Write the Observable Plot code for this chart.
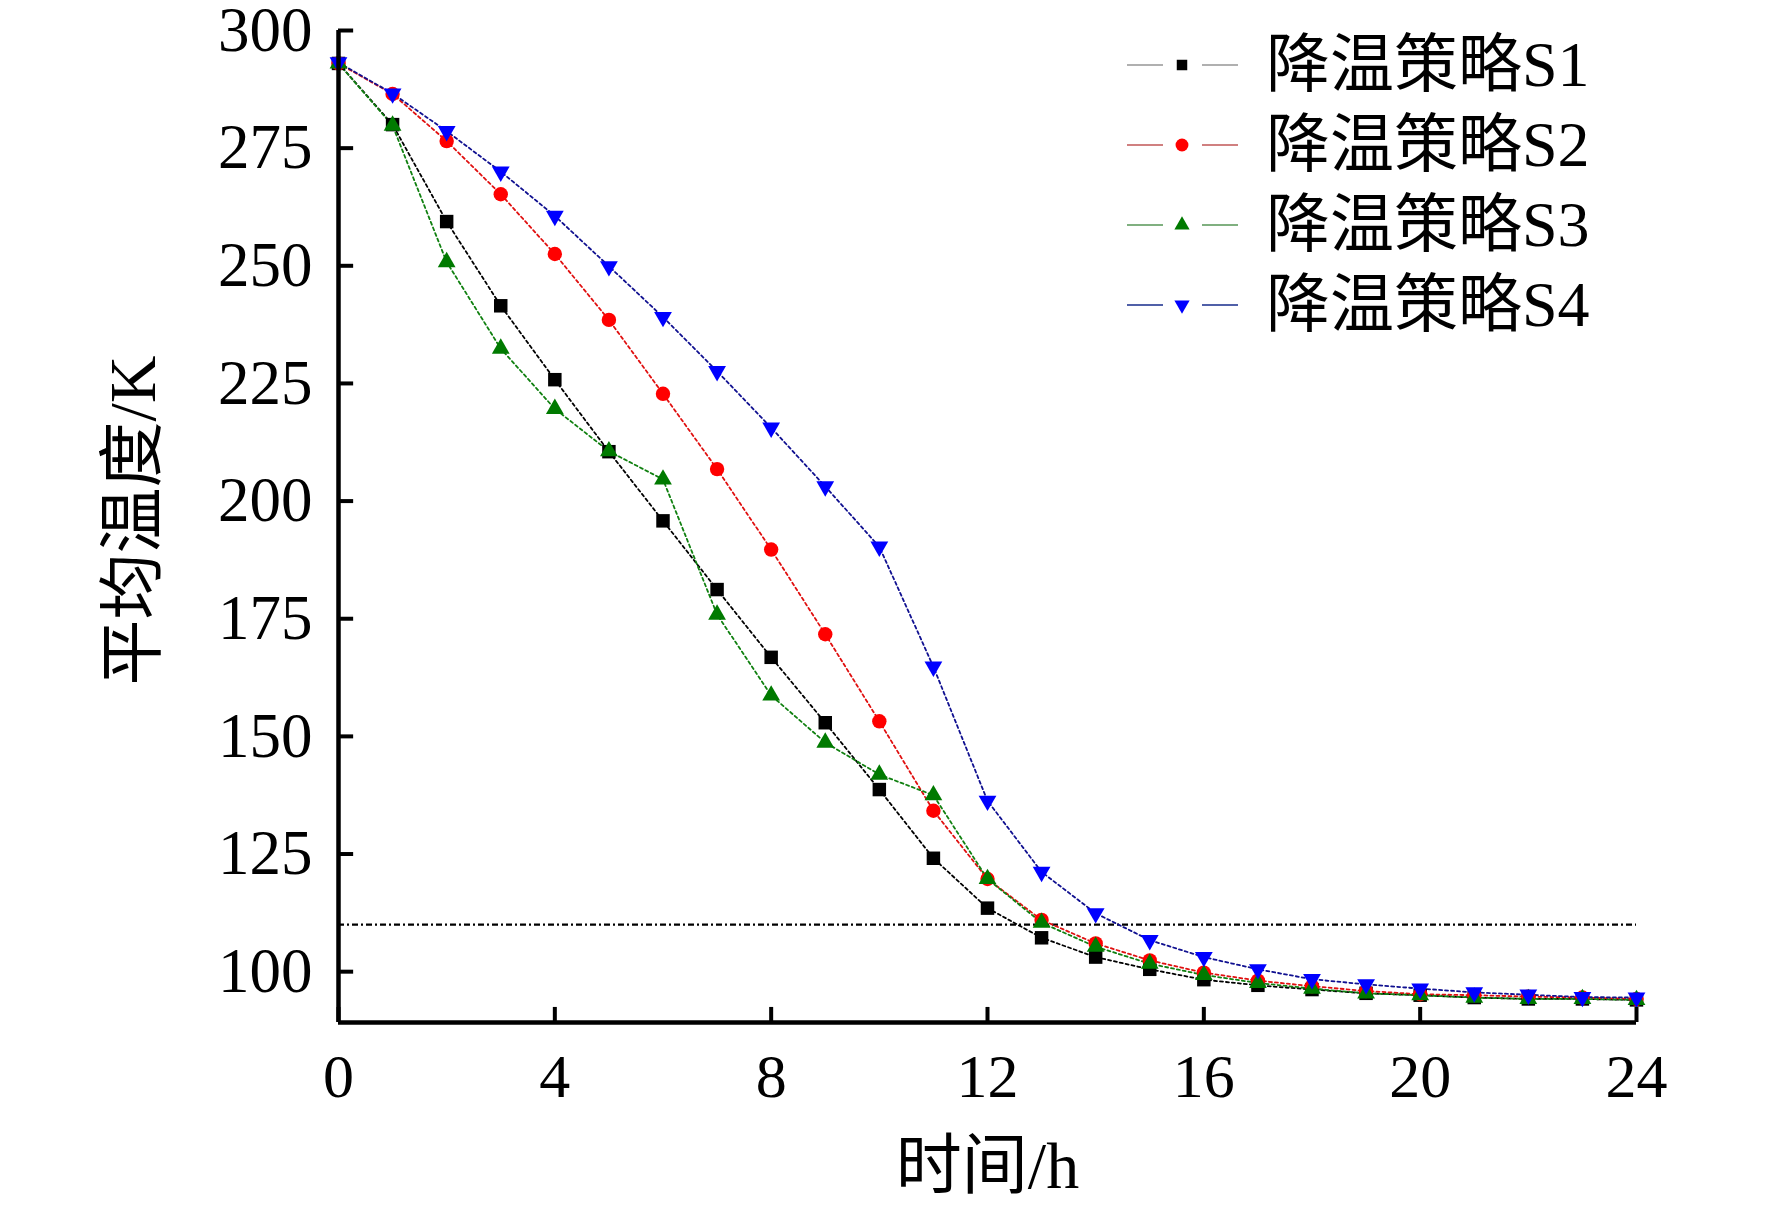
<!DOCTYPE html>
<html>
<head>
<meta charset="utf-8">
<script src="https://cdn.jsdelivr.net/npm/d3@7"></script>
<script src="https://cdn.jsdelivr.net/npm/@observablehq/plot@0.6"></script>
<style>
  html, body { margin: 0; padding: 0; background: #fff; }
  #wrap { position: relative; width: 1772px; height: 1209px; font-family: "Liberation Serif", "Noto Sans CJK SC", serif; }
  #legend { position: absolute; left: 1127px; top: 25px; }
  .row { display: flex; align-items: center; height: 80px; }
  .row span { font-size: 64px; line-height: 80px; color: #000; margin-left: -6px; }
</style>
</head>
<body>
<div id="wrap"><div id="legend"></div></div>
<script>
// ---- data ----
const hours = [0,1,2,3,4,5,6,7,8,9,10,11,12,13,14,15,16,17,18,19,20,21,22,23,24];
const seriesNames = ["降温策略S1", "降温策略S2", "降温策略S3", "降温策略S4"];
const S1 = [293, 280, 259.4, 241.5, 225.8, 210.5, 195.8, 181.2, 166.8, 152.9, 138.7, 124.1, 113.5, 107.2, 103.1, 100.5, 98.3, 97.1, 96.2, 95.4, 95.0, 94.5, 94.2, 94.2, 94.0];
const S2 = [293, 286.5, 276.5, 265.2, 252.5, 238.5, 222.8, 206.8, 189.7, 171.7, 153.2, 134.2, 119.7, 111.0, 106.0, 102.4, 99.8, 98.1, 96.9, 95.9, 95.2, 95.0, 94.7, 94.5, 94.2];
const S3 = [293, 279.8, 250.8, 232.4, 219.6, 210.6, 204.6, 175.9, 158.7, 148.7, 141.9, 137.5, 119.7, 110.4, 105.3, 101.7, 99.3, 97.6, 96.4, 95.4, 95.0, 94.5, 94.2, 94.2, 94.0];
const S4 = [293.2, 286.6, 278.6, 270.0, 260.6, 249.9, 239.1, 227.6, 215.6, 203.1, 190.3, 164.8, 136.3, 121.2, 112.4, 106.7, 103.1, 100.5, 98.4, 97.3, 96.4, 95.6, 95.1, 94.6, 94.5];
const xTicks = [0, 4, 8, 12, 16, 20, 24];
const yTicks = [100, 125, 150, 175, 200, 225, 250, 275, 300];
const refLevel = 110;
const yDomain = [89.2, 300];
const xDomain = [0, 24];

const lineColors = ["#000000", "#e01010", "#108010", "#101090"];
const dotColors = ["#000000", "#ff0000", "#007a00", "#0000ff"];
const symbols = ["square", "circle", "triangle", "triangle"];
const rotations = [0, 0, 0, 180];
const radii = [7.6, 7.2, 6.6, 6.6];
const legendLine = ["#b0b0b0", "#d08080", "#80b080", "#5060a8"];

const allValues = [S1, S2, S3, S4];
const rows = allValues.flatMap((vals, si) => hours.map((h, i) => ({h, v: vals[i], s: seriesNames[si], si})));

const font = '"Liberation Serif", "Noto Sans CJK SC", serif';

const marks = [
  Plot.ruleY([refLevel], {x1: xDomain[0], x2: xDomain[1], stroke: "#000", strokeWidth: 2.4, strokeDasharray: "6,3,2,3"})
];
seriesNames.forEach((name, si) => {
  const d = rows.filter(r => r.si === si);
  marks.push(Plot.line(d, {x: "h", y: "v", stroke: lineColors[si], strokeWidth: 1.8, strokeDasharray: "3,3"}));
});
seriesNames.forEach((name, si) => {
  const d = rows.filter(r => r.si === si);
  marks.push(Plot.dot(d, {x: "h", y: "v", symbol: symbols[si], r: radii[si], fill: dotColors[si], stroke: "none", rotate: rotations[si]}));
});
marks.push(
  Plot.ruleX([xDomain[0]], {y1: yDomain[0], y2: yDomain[1], stroke: "#000", strokeWidth: 4.5}),
  Plot.ruleY([yDomain[0]], {x1: xDomain[0], x2: xDomain[1], stroke: "#000", strokeWidth: 4.5}),
  Plot.ruleY(yTicks, {x1: 0, x2: 0.28, stroke: "#000", strokeWidth: 4}),
  Plot.ruleX(xTicks, {y1: yDomain[0], y2: yDomain[0] + 3.2, stroke: "#000", strokeWidth: 4}),
  Plot.axisY(yTicks, {tickSize: 0, tickPadding: 26, fontSize: 63, label: null, fontFamily: font}),
  Plot.axisX(xTicks, {tickSize: 0, tickPadding: 30, fontSize: 62, label: null, fontFamily: font}),
  Plot.text(["平均温度/K"], {frameAnchor: "left", textAnchor: "middle", lineAnchor: "middle", dx: -205, dy: -6, rotate: -90, fontSize: 66, fontFamily: font, fill: "#000"}),
  Plot.text(["时间/h"], {frameAnchor: "bottom", textAnchor: "middle", lineAnchor: "middle", dy: 144, fontSize: 66, fontFamily: font, fill: "#000"})
);

const chart = Plot.plot({
  width: 1772,
  height: 1209,
  marginLeft: 338,
  marginRight: 136,
  marginTop: 30,
  marginBottom: 187,
  x: {domain: xDomain},
  y: {domain: yDomain},
  style: {fontFamily: font, background: "#fff", color: "#000", overflow: "visible"},
  marks
});
document.getElementById("wrap").prepend(chart);

// legend
const legend = document.getElementById("legend");
seriesNames.forEach((name, si) => {
  const row = document.createElement("div");
  row.className = "row";
  const ns = "http://www.w3.org/2000/svg";
  const svg = document.createElementNS(ns, "svg");
  svg.setAttribute("width", 145);
  svg.setAttribute("height", 80);
  const mk = (tag, attrs) => { const e = document.createElementNS(ns, tag); for (const k in attrs) e.setAttribute(k, attrs[k]); svg.appendChild(e); return e; };
  mk("line", {x1: 0, x2: 36, y1: 40, y2: 40, stroke: legendLine[si], "stroke-width": 2.2});
  mk("line", {x1: 75, x2: 111, y1: 40, y2: 40, stroke: legendLine[si], "stroke-width": 2.2});
  const sym = {square: d3.symbolSquare, circle: d3.symbolCircle, triangle: d3.symbolTriangle}[symbols[si]];
  const size = si === 0 ? 110 : si === 1 ? 130 : 100;
  mk("path", {d: d3.symbol(sym, size)(), transform: `translate(55,40) rotate(${rotations[si]})`, fill: dotColors[si]});
  row.appendChild(svg);
  const span = document.createElement("span");
  span.textContent = name;
  row.appendChild(span);
  legend.appendChild(row);
});
</script>
</body>
</html>
